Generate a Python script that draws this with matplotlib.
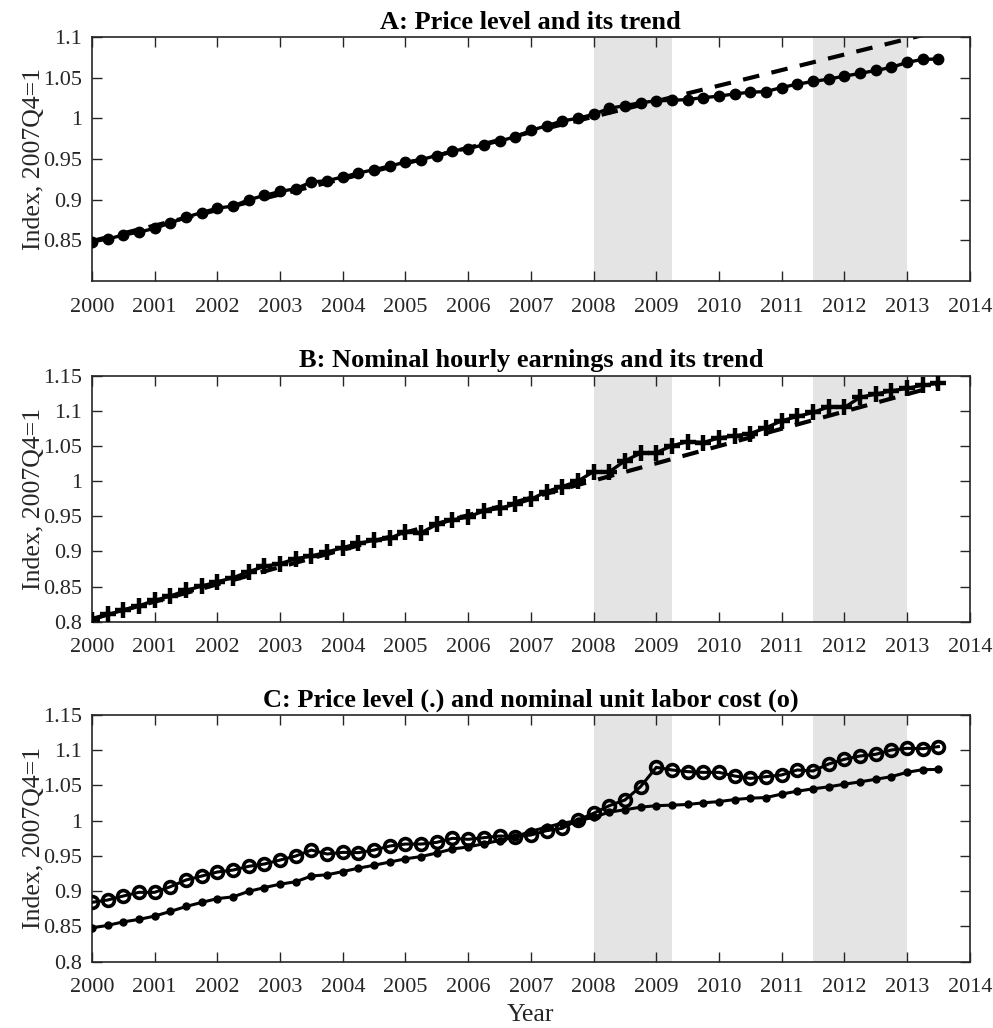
import numpy as np
import matplotlib
matplotlib.use('Agg')
import matplotlib.pyplot as plt

plt.rcParams['font.family'] = ['Liberation Serif', 'DejaVu Serif']

# Quarterly dates, 2000Q1 .. 2013Q3 (plotted at year + (q-1)/4)
years = np.arange(2000, 2013.75, 0.25)

# Price level (index, 2007Q4 = 1)
price = [0.848, 0.8515, 0.8565, 0.860, 0.8647, 0.8713, 0.8783, 0.8841,
         0.8895, 0.892, 0.8998, 0.9051, 0.910, 0.9134, 0.9216, 0.9233,
         0.9278, 0.9327, 0.9368, 0.9414, 0.9459, 0.9492, 0.9542, 0.9599,
         0.9628, 0.9673, 0.9719, 0.9772, 0.985, 0.9908, 0.9966, 1.000,
         1.0048, 1.0122, 1.0155, 1.0192, 1.0213, 1.0221, 1.023, 1.0254,
         1.0271, 1.030, 1.032, 1.0328, 1.0378, 1.0419, 1.0452, 1.0481,
         1.0518, 1.0551, 1.0588, 1.0625, 1.0687, 1.0724, 1.0728]

# Nominal hourly earnings
earnings = [0.8023, 0.8104, 0.8161, 0.8227, 0.8303, 0.8365, 0.8446, 0.8507,
            0.8569, 0.8626, 0.8712, 0.8788, 0.8826, 0.8897, 0.8935, 0.8992,
            0.9054, 0.9115, 0.9158, 0.9187, 0.9282, 0.9265, 0.9386, 0.9448,
            0.9491, 0.9576, 0.9614, 0.9671, 0.9742, 0.9852, 0.9923, 1.000,
            1.0137, 1.0132, 1.0289, 1.0398, 1.0407, 1.0502, 1.0564, 1.055,
            1.0616, 1.0645, 1.0678, 1.0759, 1.0859, 1.092, 1.0977, 1.1058,
            1.1049, 1.1191, 1.1239, 1.1286, 1.1319, 1.1367, 1.1391]

# Nominal unit labor cost
ulc = [0.8842, 0.8875, 0.8932, 0.8984, 0.8984, 0.9064, 0.9159, 0.9215,
       0.9272, 0.930, 0.9353, 0.9386, 0.9442, 0.9499, 0.9584, 0.9528,
       0.9551, 0.9547, 0.9584, 0.9641, 0.9669, 0.9669, 0.9693, 0.975,
       0.9736, 0.9759, 0.9783, 0.9774, 0.9797, 0.9859, 0.9892, 1.001,
       1.0105, 1.0213, 1.0294, 1.0483, 1.0757, 1.072, 1.0696, 1.0686,
       1.0686, 1.0634, 1.0601, 1.0625, 1.0649, 1.072, 1.0705, 1.0805,
       1.0871, 1.0918, 1.0942, 1.1003, 1.1027, 1.1022, 1.1051]

# Linear trends (end points)
trend_years = [2000, 2013.5]
price_trend = [0.849, 1.107]
earnings_trend = [0.804, 1.136]

# Shaded periods
shade_periods = [(2008.0, 2009.25), (2011.5, 2013.0)]

fig = plt.figure(figsize=(9.93, 10.28), dpi=100)
left, width = 0.0926, 0.884
axA = fig.add_axes([left, 0.7267, width, 0.2374])
axB = fig.add_axes([left, 0.3952, width, 0.2393])
axC = fig.add_axes([left, 0.0645, width, 0.2400])

spine_col = '#262626'
dash = (0, (4, 3))


def style_axis(ax, ylim, yticks, title):
    for a, b in shade_periods:
        ax.axvspan(a, b, color='#e4e4e4', lw=0, zorder=0)
    ax.set_xlim(2000, 2014)
    ax.set_ylim(*ylim)
    ax.set_xticks(range(2000, 2015))
    ax.set_yticks(yticks)
    ax.set_yticklabels([('%g' % t) for t in yticks])
    ax.tick_params(direction='in', top=True, right=True, length=7, width=1,
                   labelsize=16, colors=spine_col, pad=7)
    ax.tick_params(axis='x', pad=12)
    for s in ax.spines.values():
        s.set_color(spine_col)
        s.set_linewidth(1.2)
    ax.set_ylabel('Index, 2007Q4=1', fontsize=18.5, color=spine_col, labelpad=-1)
    ax.set_title(title, fontsize=19, fontweight='bold', pad=6)


# A: price level and trend
style_axis(axA, (0.8, 1.1), [0.85, 0.9, 0.95, 1.0, 1.05, 1.1],
           'A: Price level and its trend')
axA.plot(trend_years, price_trend, color='black', lw=3, ls=dash, zorder=2)
axA.plot(years, price, color='black', lw=2.4, marker='o', ms=7.5, zorder=3)

# B: hourly earnings and trend
style_axis(axB, (0.8, 1.15), [0.8, 0.85, 0.9, 0.95, 1.0, 1.05, 1.1, 1.15],
           'B: Nominal hourly earnings and its trend')
axB.plot(trend_years, earnings_trend, color='black', lw=3, ls=dash, zorder=2)
axB.plot(years, earnings, color='black', lw=2.4, marker='+', ms=12, mew=3.2, zorder=3)

# C: price level vs unit labor cost
style_axis(axC, (0.8, 1.15), [0.8, 0.85, 0.9, 0.95, 1.0, 1.05, 1.1, 1.15],
           'C: Price level (.) and nominal unit labor cost (o)')
axC.plot(years, price, color='black', lw=2.2, marker='o', ms=5, zorder=3)
axC.plot(years, ulc, color='black', lw=2.2, marker='o', ms=8.5, mfc='none',
         mew=2.6, zorder=3)
axC.set_xlabel('Year', fontsize=18.5, color=spine_col, labelpad=5)

fig.savefig('out.png', dpi=100)
